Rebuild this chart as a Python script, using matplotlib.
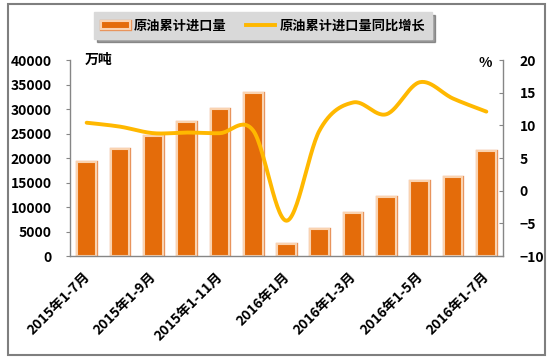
import numpy as np
import matplotlib
matplotlib.use("Agg")
import matplotlib.pyplot as plt
import matplotlib.patheffects as pe
from matplotlib.patches import Rectangle
from matplotlib.lines import Line2D

plt.rcParams['font.family'] = ['Noto Sans CJK SC', 'DejaVu Sans']
plt.rcParams['font.weight'] = 'bold'

# data
categories = ['2015年1-7月', '2015年1-8月', '2015年1-9月', '2015年1-10月',
              '2015年1-11月', '2015年1-12月', '2016年1月', '2016年1-2月',
              '2016年1-3月', '2016年1-4月', '2016年1-5月', '2016年1-6月',
              '2016年1-7月']
imports = [19100, 21800, 24500, 27300, 29900, 33200, 2500, 5500, 8800,
           12100, 15300, 16100, 21500]
growth = [10.4, 9.8, 8.8, 8.9, 8.8, 9.2, -4.6, 9.3, 13.5, 11.7, 16.6,
          14.1, 12.1]

bar_color = '#E46C0A'
line_color = '#FFB800'


def catmull_rom(xs, ys, n=30):
    # smooth line like the spreadsheet "smoothed line" option
    xs = np.asarray(xs, float)
    ys = np.asarray(ys, float)
    px = np.concatenate([[xs[0]], xs, [xs[-1]]])
    py = np.concatenate([[ys[0]], ys, [ys[-1]]])
    outx, outy = [], []
    for i in range(1, len(px) - 2):
        t = np.linspace(0, 1, n)
        p0x, p1x, p2x, p3x = px[i - 1:i + 3]
        p0y, p1y, p2y, p3y = py[i - 1:i + 3]
        c1x, c1y = p1x + (p2x - p0x) / 6, p1y + (p2y - p0y) / 6
        c2x, c2y = p2x - (p3x - p1x) / 6, p2y - (p3y - p1y) / 6
        bx = (1 - t)**3 * p1x + 3 * (1 - t)**2 * t * c1x + 3 * (1 - t) * t**2 * c2x + t**3 * p2x
        by = (1 - t)**3 * p1y + 3 * (1 - t)**2 * t * c1y + 3 * (1 - t) * t**2 * c2y + t**3 * p2y
        outx.extend(bx)
        outy.extend(by)
    return np.array(outx), np.array(outy)


fig = plt.figure(figsize=(5.52, 3.64), dpi=100)
ax = fig.add_axes([70 / 552, 1 - 256 / 364, 433 / 552, 196 / 364])
ax2 = ax.twinx()

x = np.arange(len(categories))
bars = ax.bar(x, imports, width=0.56, color=bar_color, edgecolor='#FAD3B0',
              linewidth=1.5, zorder=2)
for b in bars:
    b.set_path_effects([pe.Stroke(linewidth=2.4, foreground='#E8925A'), pe.Normal()])

sx, sy = catmull_rom(x, growth)
ax2.plot(sx, sy, color=line_color, lw=2.8, solid_capstyle='round', zorder=3)

ax.set_xlim(-0.5, len(categories) - 0.5)
ax.set_ylim(0, 40000)
ax.set_yticks(np.arange(0, 40001, 5000))
ax2.set_ylim(-10, 20)
ax2.set_yticks(np.arange(-10, 21, 5))

ax.set_xticks(x[::2] - 0.12)
ax.set_xticklabels(categories[::2], rotation=45, ha='right', va='top',
                   rotation_mode='anchor', fontsize=10, fontweight='bold')
ax.tick_params(axis='x', length=0, pad=10)
ax.tick_params(axis='y', direction='out', length=3, pad=10, labelsize=10,
               color='#868686')
ax2.tick_params(axis='y', direction='in', length=3, pad=12, labelsize=10,
                color='#868686')
for lab in ax.get_yticklabels() + ax2.get_yticklabels():
    lab.set_fontweight('bold')

for a in (ax, ax2):
    a.spines['top'].set_visible(False)
    for s in ('left', 'right', 'bottom'):
        a.spines[s].set_color('#868686')
        a.spines[s].set_linewidth(1.0)
ax.spines['right'].set_visible(False)
ax2.spines['left'].set_visible(False)
ax2.spines['bottom'].set_visible(False)

ax.text(0.035, 1.0, '万吨', transform=ax.transAxes, fontsize=10,
        fontweight='bold', ha='left', va='center')
ax2.text(0.975, 0.985, '%', transform=ax2.transAxes, fontsize=10,
         fontweight='bold', ha='right', va='center')

handles = [Rectangle((0, 0), 1, 1, facecolor=bar_color, edgecolor='#FAD3B0', lw=1.5,
                     path_effects=[pe.Stroke(linewidth=2.4, foreground='#E8925A'), pe.Normal()]),
           Line2D([0], [0], color=line_color, lw=2.8)]
leg = fig.legend(handles, ['原油累计进口量', '原油累计进口量同比增长'],
                 loc='center', bbox_to_anchor=(263 / 552, 1 - 25.5 / 364),
                 ncol=2, frameon=True, fancybox=False, shadow=True,
                 prop={'weight': 'bold', 'size': 9.5},
                 handlelength=2.2, handleheight=0.6, columnspacing=1.5,
                 borderpad=0.5, handletextpad=0.3, borderaxespad=0)
leg.get_frame().set_facecolor('#D9D9D9')
leg.get_frame().set_edgecolor('#D9D9D9')

# outer chart border
fig.add_artist(Rectangle((8 / 552, 1 - 355 / 364), 537 / 552, 351 / 364,
                         transform=fig.transFigure, fill=False,
                         edgecolor='#7F7F7F', lw=1.5))

fig.savefig('out.png', dpi=100)
